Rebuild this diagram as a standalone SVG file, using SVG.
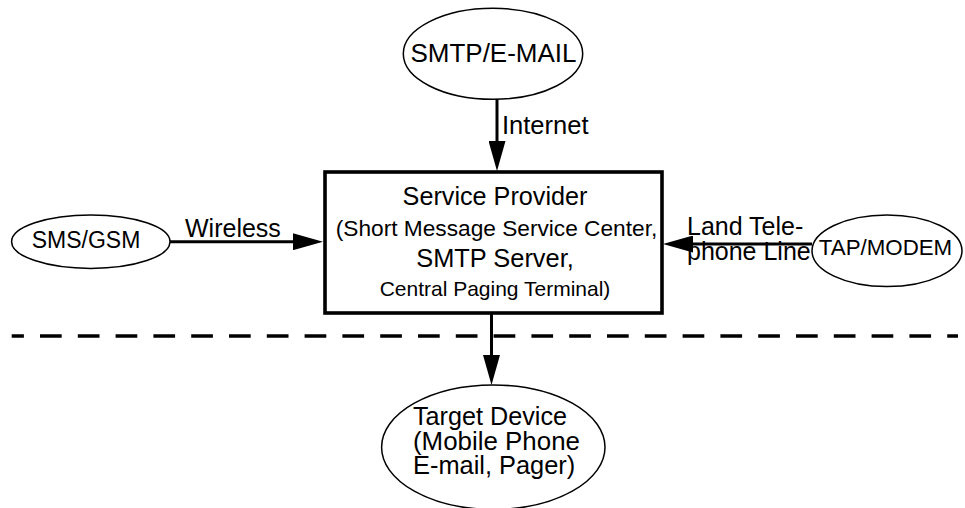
<svg xmlns="http://www.w3.org/2000/svg" width="965" height="508" viewBox="0 0 965 508">
<style>
text{font-family:"Liberation Sans",Arial,Helvetica,sans-serif;fill:#000}
.node{fill:#fff;stroke:#000;stroke-width:1.5}
.box{fill:#fff;stroke:#000;stroke-width:3.6}
.conn{stroke:#000;stroke-width:3;fill:none}
.mid{text-anchor:middle}
</style>
<defs>
<marker id="ah" markerUnits="userSpaceOnUse" markerWidth="31" markerHeight="17" refX="0" refY="8.5" orient="auto">
<path d="M0,0 L30,8.5 L0,17 Z" fill="#000"/>
</marker>
</defs>
<rect width="965" height="508" fill="#fff"/>
<g id="separator">
<line x1="11.7" y1="336" x2="958" y2="336" stroke="#000" stroke-width="3.4" stroke-dasharray="21.7 16.1" stroke-dashoffset="9.5"/>
</g>
<g id="connectors">
<line class="conn" x1="497" y1="99" x2="497" y2="141" marker-end="url(#ah)"/>
<line class="conn" x1="170" y1="241.7" x2="293" y2="241.7" marker-end="url(#ah)"/>
<line class="conn" x1="812" y1="244" x2="693" y2="244" marker-end="url(#ah)"/>
<line class="conn" x1="491.5" y1="313" x2="491.5" y2="355" marker-end="url(#ah)"/>
<text x="502" y="134" font-size="25.5">Internet</text>
<text x="185" y="236.7" font-size="25">Wireless</text>
<text x="687" y="235" font-size="25">Land Tele-</text>
<text x="687" y="260" font-size="25">phone Line</text>
</g>
<g id="smtp-email">
<ellipse class="node" cx="493" cy="53.8" rx="89.7" ry="45.5"/>
<text class="mid" x="493.5" y="61.7" font-size="26">SMTP/E-MAIL</text>
</g>
<g id="sms-gsm">
<ellipse class="node" cx="90.8" cy="241.7" rx="79.2" ry="26.7"/>
<text class="mid" x="86" y="248" font-size="23">SMS/GSM</text>
</g>
<g id="tap-modem">
<ellipse class="node" cx="887" cy="250.8" rx="75" ry="35.8"/>
<text class="mid" x="885.5" y="255" font-size="22.3">TAP/MODEM</text>
</g>
<g id="service-provider">
<rect class="box" x="325" y="172" width="337" height="141"/>
<text class="mid" x="495" y="204.7" font-size="25.2">Service Provider</text>
<text class="mid" x="496.5" y="236.3" font-size="22.7">(Short Message Service Center,</text>
<text class="mid" x="495" y="267" font-size="25.4">SMTP Server,</text>
<text class="mid" x="495" y="296.3" font-size="21">Central Paging Terminal)</text>
</g>
<g id="target-device">
<ellipse class="node" cx="493.3" cy="447.2" rx="111.7" ry="62.2"/>
<text x="413" y="425" font-size="25.2">Target Device</text>
<text x="413" y="450" font-size="25.9">(Mobile Phone</text>
<text x="413" y="474" font-size="25.4">E-mail, Pager)</text>
</g>
</svg>
